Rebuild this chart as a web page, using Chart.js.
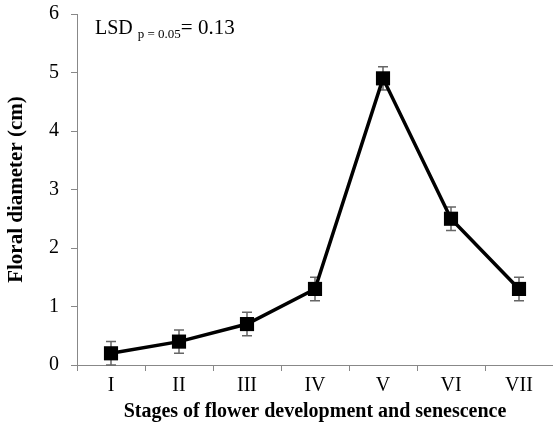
<!DOCTYPE html>
<html>
<head>
<meta charset="utf-8">
<script src="https://cdn.jsdelivr.net/npm/chart.js@4/dist/chart.umd.min.js"></script>
<style>
  html, body { margin: 0; padding: 0; background: #fff; }
  #wrap { width: 553px; height: 434px; }
</style>
</head>
<body>
<div id="wrap"><canvas id="chart" width="553" height="434"></canvas></div>
<script>
const stages = ['I', 'II', 'III', 'IV', 'V', 'VI', 'VII'];
const diameter = [0.2, 0.4, 0.7, 1.3, 4.9, 2.5, 1.3];
const errors = [0.2, 0.2, 0.2, 0.2, 0.2, 0.2, 0.2];
const yTicks = [0, 1, 2, 3, 4, 5, 6];

const serif = '"Liberation Serif", "Times New Roman", serif';

// error bars, drawn behind the markers
const errorBars = {
  id: 'errorBars',
  beforeDatasetsDraw(chart) {
    const ctx = chart.ctx;
    const x = chart.scales.x, y = chart.scales.y;
    ctx.save();
    ctx.strokeStyle = '#666';
    ctx.lineWidth = 1.5;
    diameter.forEach((v, i) => {
      const px = x.getPixelForValue(i);
      const top = y.getPixelForValue(v + errors[i]);
      const bot = y.getPixelForValue(v - errors[i]);
      ctx.beginPath();
      ctx.moveTo(px, top); ctx.lineTo(px, bot);
      ctx.moveTo(px - 5, top); ctx.lineTo(px + 5, top);
      ctx.moveTo(px - 5, bot); ctx.lineTo(px + 5, bot);
      ctx.stroke();
    });
    ctx.restore();
  }
};

// LSD note in top-left corner of plot
const lsdNote = {
  id: 'lsdNote',
  afterDraw(chart) {
    const ctx = chart.ctx;
    const left = chart.chartArea.left + 18;
    const base = 34;
    ctx.save();
    ctx.fillStyle = '#000';
    ctx.textBaseline = 'alphabetic';
    ctx.font = '20px ' + serif;
    ctx.fillText('LSD', left, base);
    let w = ctx.measureText('LSD ').width;
    ctx.font = '13px ' + serif;
    ctx.fillText('p = 0.05', left + w, base + 4);
    w += ctx.measureText('p = 0.05').width;
    ctx.font = '21px ' + serif;
    ctx.fillText('= 0.13', left + w, base);
    ctx.restore();
  }
};

new Chart(document.getElementById('chart'), {
  type: 'line',
  data: {
    labels: stages,
    datasets: [{
      data: diameter,
      borderColor: '#000',
      borderWidth: 3.5,
      backgroundColor: '#000',
      pointStyle: 'rect',
      pointRadius: 10,
      pointBorderWidth: 0,
      tension: 0
    }]
  },
  options: {
    responsive: false,
    animation: false,
    layout: { autoPadding: false, padding: { top: 14, right: 0, left: 0, bottom: 0 } },
    plugins: { legend: { display: false }, tooltip: { enabled: false } },
    scales: {
      x: {
        offset: true,
        grid: { drawOnChartArea: false, offset: true, tickLength: 6, color: '#888' },
        border: { color: '#888', width: 1 },
        ticks: { color: '#000', padding: 3, font: { family: serif, size: 20 } },
        title: {
          display: true,
          text: 'Stages of flower development and senescence',
          color: '#000',
          font: { family: serif, size: 20, weight: 'bold' },
          padding: { top: 4, bottom: 10 }
        },
        afterFit: s => { s.height = 69; s.paddingRight = 0; }
      },
      y: {
        min: 0, max: 6,
        afterBuildTicks: s => { s.ticks = yTicks.map(v => ({ value: v })); },
        grid: { drawOnChartArea: false, tickLength: 6, color: '#888' },
        border: { color: '#888', width: 1 },
        ticks: { color: '#000', padding: 12, font: { family: serif, size: 20 } },
        title: {
          display: true,
          text: 'Floral diameter (cm)',
          color: '#000',
          font: { family: serif, size: 21, weight: 'bold' },
          padding: { top: 4, bottom: 0 }
        },
        afterFit: s => { s.width = 77; s.paddingTop = 0; s.paddingBottom = 0; }
      }
    }
  },
  plugins: [errorBars, lsdNote]
});
</script>
</body>
</html>
